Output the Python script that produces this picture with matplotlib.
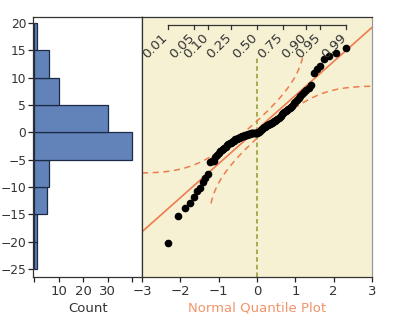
import matplotlib
matplotlib.use("Agg")
import matplotlib.pyplot as plt
import numpy as np
from statistics import NormalDist

plt.rcParams['font.family'] = ['DejaVu Sans']

values = [-20.2, -15.3, -13.9, -13.0, -11.8, -10.8, -10.1, -9.1, -8.3, -7.7,
          -5.4, -5.3, -5.2, -4.6, -4.2, -3.8, -3.5, -3.2, -3.0, -2.8,
          -2.6, -2.4, -2.2, -2.0, -1.9, -1.7, -1.6, -1.5, -1.3, -1.2,
          -1.1, -1.0, -0.9, -0.8, -0.7, -0.65, -0.6, -0.5, -0.45, -0.4,
          -0.35, -0.3, -0.25, -0.2, -0.17, -0.14, -0.11, -0.08, -0.06, -0.04,
          -0.03, -0.02, -0.01, 0.2, 0.4, 0.6, 0.8, 0.9, 1.0, 1.1,
          1.3, 1.4, 1.5, 1.6, 1.7, 1.8, 1.9, 2.0, 2.1, 2.2,
          2.4, 2.6, 2.8, 3.0, 3.3, 3.5, 3.7, 3.9, 4.1, 4.3,
          4.5, 4.7, 4.9, 5.3, 5.6, 5.9, 6.2, 6.6, 7.0, 7.4,
          7.8, 8.2, 8.6, 10.9, 11.5, 12.1, 13.5, 14.0, 14.6, 15.4]
bin_edges = [-25, -20, -15, -10, -5, 0, 5, 10, 15, 20]
y_ticks = [-25, -20, -15, -10, -5, 0, 5, 10, 15, 20]
count_ticks = [0, 10, 20, 30, 40]
count_labels = ['', '10', '20', '30', '']
q_ticks = [-3, -2, -1, 0, 1, 2, 3]
probs = [0.01, 0.05, 0.10, 0.25, 0.50, 0.75, 0.90, 0.95, 0.99]
prob_labels = ['0.01', '0.05', '0.10', '0.25', '0.50', '0.75', '0.90', '0.95', '0.99']

# fitted normal line and Lilliefors band width
fit_mean = 0.5
fit_sd = 6.23
band_d = 0.10

nd = NormalDist()
n = len(values)
quantiles = [nd.inv_cdf(i / (n + 1)) for i in range(1, n + 1)]

text_col = '#333333'
orange = '#EF7B4E'
fs = 9.5
ylim = (-26.46, 21.1)

fig = plt.figure(figsize=(3.99, 3.28), dpi=100)
ax_h = fig.add_axes([0.0835, 0.1555, 0.2724, 0.7927])
ax_q = fig.add_axes([0.3559, 0.1555, 0.5764, 0.7927])

# histogram
ax_h.hist(values, bins=bin_edges, orientation='horizontal',
          color='#6282BA', edgecolor='#1C2B45', linewidth=0.9)
ax_h.set_ylim(*ylim)
ax_h.set_xlim(-0.4, 44)
ax_h.set_yticks(y_ticks)
ax_h.set_xticks(count_ticks)
ax_h.set_xticklabels(count_labels)
ax_h.set_xlabel('Count', fontsize=fs, color=text_col, labelpad=3)
ax_h.tick_params(direction='out', length=3.5, width=0.9, colors='#222222',
                 labelcolor=text_col, labelsize=fs, pad=2)
ax_h.tick_params(axis='y', labelsize=8.8, pad=1.5)
for s in ax_h.spines.values():
    s.set_color('#333333')
    s.set_linewidth(0.9)

# normal quantile plot
ax_q.set_facecolor('#F6F1D3')
ax_q.set_xlim(-3, 3)
ax_q.set_ylim(*ylim)
ax_q.set_xticks(q_ticks)
ax_q.set_yticks([])
ax_q.set_xticklabels(['\u22123', '\u22122', '\u22121', '0', '1', '2', '3'])
ax_q.tick_params(direction='out', length=3.5, width=0.9, colors='#222222',
                 labelcolor=text_col, labelsize=fs, pad=2)
ax_q.set_xlabel('Normal Quantile Plot', fontsize=fs, color='#F2946A', labelpad=3)
for s in ax_q.spines.values():
    s.set_color('#333333')
    s.set_linewidth(0.9)
ax_q.spines['right'].set_color('#999999')

xs = np.linspace(-3, 3, 300)
ax_q.plot(xs, fit_mean + fit_sd * xs, color=orange, lw=1.2, zorder=2)

xa = np.linspace(-3, 1.2, 200)
ya = [fit_mean + fit_sd * nd.inv_cdf(nd.cdf(x) + band_d) for x in xa]
xb = np.linspace(-1.2, 3, 200)
yb = [fit_mean + fit_sd * nd.inv_cdf(nd.cdf(x) - band_d) for x in xb]
ax_q.plot(xa, ya, color=orange, lw=1.1, ls=(0, (4, 3)), zorder=2)
ax_q.plot(xb, yb, color=orange, lw=1.1, ls=(0, (4, 3)), zorder=2)

ax_q.plot([0, 0], [ylim[0], 13.9], color='#8C9A2E', lw=1.1, ls=(0, (3, 2)), zorder=1)

ax_q.plot(quantiles, values, 'o', color='black', ms=4.5, zorder=3)

# probability scale along the top
trans = ax_q.get_xaxis_transform()
q_probs = [nd.inv_cdf(p) for p in probs]
ax_q.plot([q_probs[0], q_probs[-1]], [0.969, 0.969], color='#333333', lw=0.9,
          transform=trans, zorder=4)
for q, lab in zip(q_probs, prob_labels):
    ax_q.plot([q, q], [0.969, 0.954], color='#333333', lw=0.9, transform=trans, zorder=4)
    ax_q.text(q + 0.07, 0.945, lab, transform=trans, rotation=45, ha='right', va='top',
              fontsize=fs, color=text_col, zorder=5)

plt.savefig('out.png', dpi=100)
